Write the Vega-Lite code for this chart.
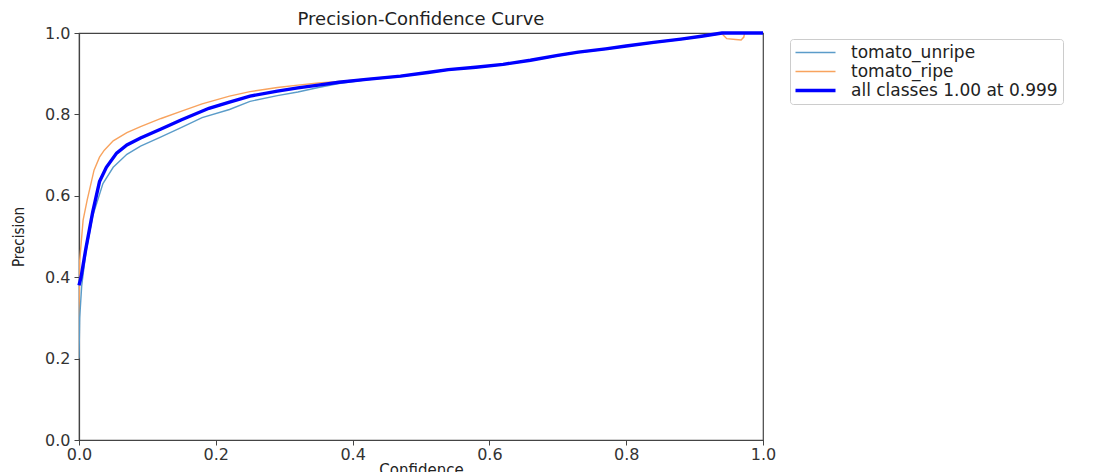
{
  "$schema": "https://vega.github.io/schema/vega-lite/v6.json",
  "autosize": {"type": "none"},
  "width": 684,
  "height": 407,
  "padding": {"left": 79, "top": 33, "right": 331, "bottom": 32},
  "background": "white",
  "title": {"text": "Precision-Confidence Curve", "fontSize": 18, "font": "DejaVu Sans", "fontWeight": "normal", "color": "#222", "anchor": "middle", "offset": -4},
  "config": {
    "view": {"stroke": "#444", "strokeWidth": 1.2},
    "axis": {"labelFont": "DejaVu Sans", "labelFontSize": 16, "labelColor": "#333", "titleFont": "DejaVu Sans", "titleFontSize": 16, "titleFontWeight": "normal", "titleColor": "#222", "domainColor": "#444", "domainWidth": 1.2, "tickColor": "#444", "tickSize": 5, "grid": false},
    "legend": {"labelFont": "DejaVu Sans", "labelFontSize": 17, "labelColor": "#222"}
  },
  "data": {"values": [
    {"series":"all classes 1.00 at 0.999","confidence":0,"precision":0.38},
    {"series":"all classes 1.00 at 0.999","confidence":0.003,"precision":0.40},
    {"series":"all classes 1.00 at 0.999","confidence":0.01,"precision":0.47},
    {"series":"all classes 1.00 at 0.999","confidence":0.02,"precision":0.56},
    {"series":"all classes 1.00 at 0.999","confidence":0.03,"precision":0.635},
    {"series":"all classes 1.00 at 0.999","confidence":0.04,"precision":0.67},
    {"series":"all classes 1.00 at 0.999","confidence":0.055,"precision":0.705},
    {"series":"all classes 1.00 at 0.999","confidence":0.07,"precision":0.725},
    {"series":"all classes 1.00 at 0.999","confidence":0.09,"precision":0.742},
    {"series":"all classes 1.00 at 0.999","confidence":0.12,"precision":0.764},
    {"series":"all classes 1.00 at 0.999","confidence":0.15,"precision":0.787},
    {"series":"all classes 1.00 at 0.999","confidence":0.19,"precision":0.815},
    {"series":"all classes 1.00 at 0.999","confidence":0.22,"precision":0.830},
    {"series":"all classes 1.00 at 0.999","confidence":0.25,"precision":0.845},
    {"series":"all classes 1.00 at 0.999","confidence":0.29,"precision":0.857},
    {"series":"all classes 1.00 at 0.999","confidence":0.32,"precision":0.865},
    {"series":"all classes 1.00 at 0.999","confidence":0.35,"precision":0.872},
    {"series":"all classes 1.00 at 0.999","confidence":0.38,"precision":0.879},
    {"series":"all classes 1.00 at 0.999","confidence":0.42,"precision":0.886},
    {"series":"all classes 1.00 at 0.999","confidence":0.47,"precision":0.894},
    {"series":"all classes 1.00 at 0.999","confidence":0.51,"precision":0.903},
    {"series":"all classes 1.00 at 0.999","confidence":0.54,"precision":0.910},
    {"series":"all classes 1.00 at 0.999","confidence":0.58,"precision":0.916},
    {"series":"all classes 1.00 at 0.999","confidence":0.62,"precision":0.923},
    {"series":"all classes 1.00 at 0.999","confidence":0.66,"precision":0.933},
    {"series":"all classes 1.00 at 0.999","confidence":0.70,"precision":0.945},
    {"series":"all classes 1.00 at 0.999","confidence":0.73,"precision":0.953},
    {"series":"all classes 1.00 at 0.999","confidence":0.77,"precision":0.961},
    {"series":"all classes 1.00 at 0.999","confidence":0.80,"precision":0.968},
    {"series":"all classes 1.00 at 0.999","confidence":0.84,"precision":0.977},
    {"series":"all classes 1.00 at 0.999","confidence":0.88,"precision":0.985},
    {"series":"all classes 1.00 at 0.999","confidence":0.91,"precision":0.992},
    {"series":"all classes 1.00 at 0.999","confidence":0.94,"precision":1.0},
    {"series":"all classes 1.00 at 0.999","confidence":1.0,"precision":1.0},

    {"series":"tomato_ripe","confidence":0,"precision":0.29},
    {"series":"tomato_ripe","confidence":0.001,"precision":0.44},
    {"series":"tomato_ripe","confidence":0.006,"precision":0.54},
    {"series":"tomato_ripe","confidence":0.012,"precision":0.59},
    {"series":"tomato_ripe","confidence":0.022,"precision":0.663},
    {"series":"tomato_ripe","confidence":0.03,"precision":0.695},
    {"series":"tomato_ripe","confidence":0.037,"precision":0.712},
    {"series":"tomato_ripe","confidence":0.05,"precision":0.735},
    {"series":"tomato_ripe","confidence":0.07,"precision":0.755},
    {"series":"tomato_ripe","confidence":0.09,"precision":0.77},
    {"series":"tomato_ripe","confidence":0.12,"precision":0.79},
    {"series":"tomato_ripe","confidence":0.15,"precision":0.808},
    {"series":"tomato_ripe","confidence":0.18,"precision":0.826},
    {"series":"tomato_ripe","confidence":0.22,"precision":0.845},
    {"series":"tomato_ripe","confidence":0.25,"precision":0.856},
    {"series":"tomato_ripe","confidence":0.29,"precision":0.866},
    {"series":"tomato_ripe","confidence":0.32,"precision":0.872},
    {"series":"tomato_ripe","confidence":0.35,"precision":0.877},
    {"series":"tomato_ripe","confidence":0.38,"precision":0.881},
    {"series":"tomato_ripe","confidence":0.42,"precision":0.887},
    {"series":"tomato_ripe","confidence":0.47,"precision":0.895},
    {"series":"tomato_ripe","confidence":0.51,"precision":0.903},
    {"series":"tomato_ripe","confidence":0.54,"precision":0.911},
    {"series":"tomato_ripe","confidence":0.58,"precision":0.916},
    {"series":"tomato_ripe","confidence":0.62,"precision":0.923},
    {"series":"tomato_ripe","confidence":0.66,"precision":0.933},
    {"series":"tomato_ripe","confidence":0.70,"precision":0.944},
    {"series":"tomato_ripe","confidence":0.73,"precision":0.953},
    {"series":"tomato_ripe","confidence":0.77,"precision":0.961},
    {"series":"tomato_ripe","confidence":0.80,"precision":0.968},
    {"series":"tomato_ripe","confidence":0.84,"precision":0.977},
    {"series":"tomato_ripe","confidence":0.88,"precision":0.985},
    {"series":"tomato_ripe","confidence":0.91,"precision":0.992},
    {"series":"tomato_ripe","confidence":0.94,"precision":0.998},
    {"series":"tomato_ripe","confidence":0.947,"precision":0.986},
    {"series":"tomato_ripe","confidence":0.96,"precision":0.984},
    {"series":"tomato_ripe","confidence":0.968,"precision":0.983},
    {"series":"tomato_ripe","confidence":0.972,"precision":0.99},
    {"series":"tomato_ripe","confidence":0.973,"precision":1.0},
    {"series":"tomato_ripe","confidence":1.0,"precision":1.0},

    {"series":"tomato_unripe","confidence":0,"precision":0.2},
    {"series":"tomato_unripe","confidence":0.001,"precision":0.3},
    {"series":"tomato_unripe","confidence":0.004,"precision":0.38},
    {"series":"tomato_unripe","confidence":0.01,"precision":0.46},
    {"series":"tomato_unripe","confidence":0.02,"precision":0.55},
    {"series":"tomato_unripe","confidence":0.035,"precision":0.63},
    {"series":"tomato_unripe","confidence":0.05,"precision":0.67},
    {"series":"tomato_unripe","confidence":0.07,"precision":0.702},
    {"series":"tomato_unripe","confidence":0.09,"precision":0.722},
    {"series":"tomato_unripe","confidence":0.12,"precision":0.745},
    {"series":"tomato_unripe","confidence":0.15,"precision":0.768},
    {"series":"tomato_unripe","confidence":0.18,"precision":0.792},
    {"series":"tomato_unripe","confidence":0.22,"precision":0.812},
    {"series":"tomato_unripe","confidence":0.25,"precision":0.832},
    {"series":"tomato_unripe","confidence":0.29,"precision":0.846},
    {"series":"tomato_unripe","confidence":0.32,"precision":0.855},
    {"series":"tomato_unripe","confidence":0.35,"precision":0.866},
    {"series":"tomato_unripe","confidence":0.38,"precision":0.876},
    {"series":"tomato_unripe","confidence":0.42,"precision":0.885},
    {"series":"tomato_unripe","confidence":0.47,"precision":0.893},
    {"series":"tomato_unripe","confidence":0.51,"precision":0.902},
    {"series":"tomato_unripe","confidence":0.54,"precision":0.909},
    {"series":"tomato_unripe","confidence":0.58,"precision":0.915},
    {"series":"tomato_unripe","confidence":0.62,"precision":0.922},
    {"series":"tomato_unripe","confidence":0.66,"precision":0.932},
    {"series":"tomato_unripe","confidence":0.70,"precision":0.944},
    {"series":"tomato_unripe","confidence":0.73,"precision":0.952},
    {"series":"tomato_unripe","confidence":0.77,"precision":0.960},
    {"series":"tomato_unripe","confidence":0.80,"precision":0.967},
    {"series":"tomato_unripe","confidence":0.84,"precision":0.976},
    {"series":"tomato_unripe","confidence":0.88,"precision":0.984},
    {"series":"tomato_unripe","confidence":0.91,"precision":0.991},
    {"series":"tomato_unripe","confidence":0.93,"precision":0.996},
    {"series":"tomato_unripe","confidence":0.94,"precision":1.0},
    {"series":"tomato_unripe","confidence":1.0,"precision":1.0}
  ]},
  "encoding": {
    "x": {"field": "confidence", "type": "quantitative", "scale": {"domain": [0, 1], "nice": false, "zero": false}, "axis": {"title": "Confidence", "values": [0, 0.2, 0.4, 0.6, 0.8, 1.0], "format": ".1f", "labelPadding": 1, "titlePadding": 0, "titleFontSize": 15, "labelFlush": false}},
    "y": {"field": "precision", "type": "quantitative", "scale": {"domain": [0, 1], "nice": false}, "axis": {"title": "Precision", "values": [0, 0.2, 0.4, 0.6, 0.8, 1.0], "format": ".1f", "labelPadding": 4, "titlePadding": 18, "titleFont": "DejaVu Sans Condensed", "titleFontSize": 15, "labelFlush": false}},
    "color": {"field": "series", "type": "nominal", "scale": {"domain": ["tomato_unripe", "tomato_ripe", "all classes 1.00 at 0.999"], "range": ["#5b9cc9", "#f8a35e", "#0000ff"]},
      "legend": {"title": null, "orient": "none", "legendX": 711, "legendY": 6, "symbolType": "M-1,0H4", "symbolSize": 256, "symbolStrokeWidth": 1.6, "labelLimit": 500, "strokeColor": "#cccccc", "fillColor": "white", "cornerRadius": 3, "padding": 5, "rowPadding": 1, "labelOffset": 39, "symbolOffset": 0,
        "encode": {"symbols": {"update": {"strokeWidth": {"signal": "datum.value == 'all classes 1.00 at 0.999' ? 3.5 : 1.6"}}}}}}
  },
  "layer": [
    {"transform": [{"filter": "datum.series != 'all classes 1.00 at 0.999'"}], "mark": {"type": "line", "clip": true, "strokeWidth": 1.4}},
    {"transform": [{"filter": "datum.series == 'all classes 1.00 at 0.999'"}], "mark": {"type": "line", "clip": false, "strokeWidth": 3.4}}
  ]
}
